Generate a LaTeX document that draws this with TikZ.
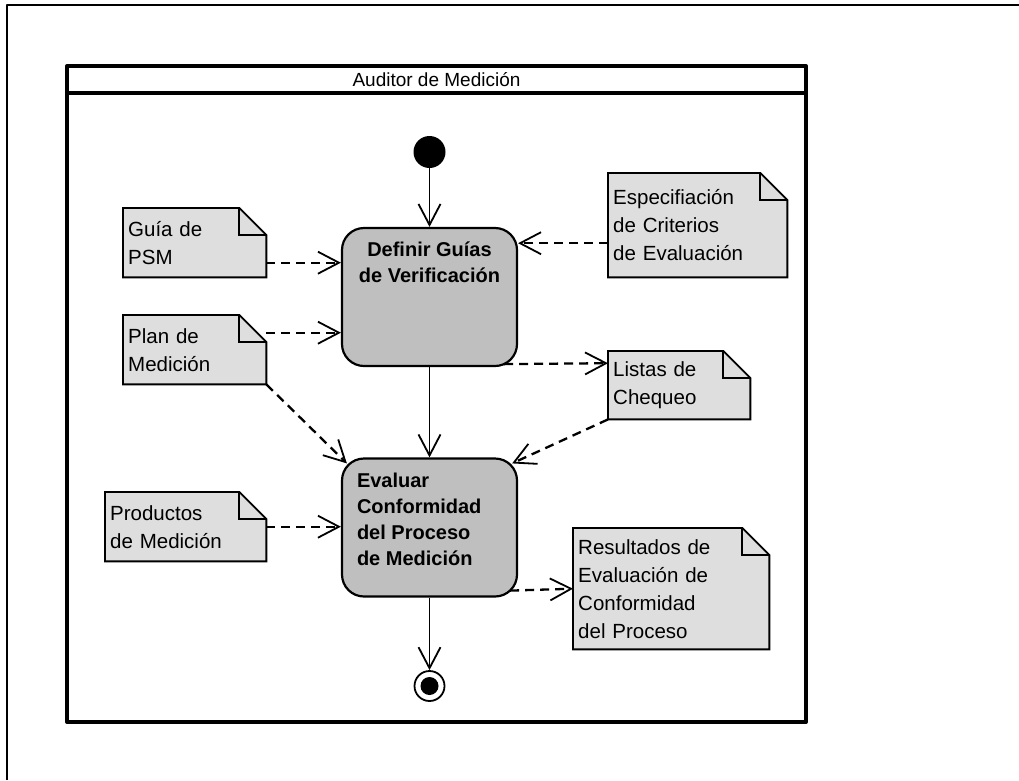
\documentclass[tikz,border=0pt]{standalone}
\usepackage{fontspec}
\setmainfont{Liberation Sans}
\usetikzlibrary{arrows.meta}
\definecolor{notegray}{gray}{0.87}
\definecolor{actgray}{gray}{0.75}
\tikzset{
  note/.style={fill=notegray, anchor=north west, inner xsep=5pt, inner ysep=0pt,
    align=left, font=\fontsize{20.5}{28}\selectfont},
  notedge/.style={line width=1.9pt, line join=miter},
  activity/.style={draw, line width=2.2pt, fill=actgray, rounded corners=22pt,
    inner xsep=15pt, inner ysep=14pt, font=\fontsize{20}{26}\selectfont\bfseries},
  flow/.style={line width=1.4pt, -{Straight Barb[length=21pt,width=22pt,line width=1.8pt]}},
  dep/.style={flow, line width=2.3pt, dash pattern=on 9pt off 6pt}
}
\begin{document}
\begin{tikzpicture}[line cap=butt,line join=round,x=1pt,y=-1pt]
  \useasboundingbox (0,0) rectangle (1019,780);
  % marco exterior
  \draw[line width=1.4pt] (7,780) -- (7,5) -- (1019,5);
  % calle del auditor
  \draw[line width=4pt] (67,66) rectangle (806,722);
  \draw[line width=3.5pt] (67,93) -- (806,93);
  \node[font=\fontsize{19}{20}\selectfont] (lanetitle) at (436.5,80) {Auditor de Medición};
  % inicio y fin
  \node[circle, fill=black, minimum size=32pt, inner sep=0pt] (start) at (429.5,152) {};
  \node[circle, draw, line width=1.8pt, minimum size=30pt, inner sep=0pt] (stop) at (429.5,686) {};
  \fill (stop) circle (9pt);
  % actividades
  \node[activity] (defin) at (429.5,297)
    {\parbox[c][110pt][t]{145pt}{\centering Definir Guías\\de Verificación}};
  \node[activity] (eval) at (429.5,527.5)
    {\parbox[c][110pt][t]{145pt}{\raggedright Evaluar\\Conformidad\\del Proceso\\de Medición}};
  % notas (artefactos)
  \node[note, text width=133pt, minimum height=69pt] (psm) at (123,208) {Guía de\\PSM};
  \node[note, text width=133pt, minimum height=69pt] (plan) at (123,315) {Plan de\\Medición};
  \node[note, text width=151pt, minimum height=69pt] (prod) at (105,492) {Productos\\de Medición};
  \node[note, text width=169pt, minimum height=104pt] (espec) at (608,173)
    {Especifiación\\de Criterios\\de Evaluación};
  \node[note, text width=132pt, minimum height=68pt] (listas) at (608,351) {Listas de\\Chequeo};
  \node[note, text width=186pt, minimum height=121pt] (result) at (573,528)
    {Resultados de\\Evaluación de\\Conformidad\\del Proceso};
  \foreach \n in {psm,plan,prod,espec,listas,result}{
    \fill[white] ([xshift=-27pt]\n.north east) -- (\n.north east) -- ([yshift=-27pt]\n.north east) -- cycle;
    \draw[notedge] (\n.north west) -- ([xshift=-27pt]\n.north east) -- ([yshift=-27pt]\n.north east)
      -- (\n.south east) -- (\n.south west) -- cycle;
    \draw[notedge] ([xshift=-27pt]\n.north east) |- ([yshift=-27pt]\n.north east);
  }
  % flujo de control
  \draw[flow] (start) -- (defin);
  \draw[flow] (defin) -- (eval);
  \draw[flow] (eval) -- (stop);
  % flujo de objetos
  \draw[dep] ([yshift=-20pt]psm.east) -- ([yshift=-20pt]psm.east -| defin.west);
  \draw[dep] ([yshift=17pt]plan.east) -- ([yshift=17pt]plan.east -| defin.west);
  \draw[dep] (plan.south east) -- ([shift={(6pt,-6pt)}]eval.north west);
  \draw[dep] ([yshift=-18pt]espec.west) -- ([yshift=-18pt]espec.west -| defin.east);
  \draw[dep] ([shift={(-14pt,3pt)}]defin.south east) -- ([yshift=22pt]listas.west);
  \draw[dep] (listas.south west) -- ([shift={(-6pt,-6pt)}]eval.north east);
  \draw[dep] (prod.east) -- (prod.east -| eval.west);
  \draw[dep] ([shift={(-8pt,7pt)}]eval.south east) -- (result.west);
\end{tikzpicture}
\end{document}
